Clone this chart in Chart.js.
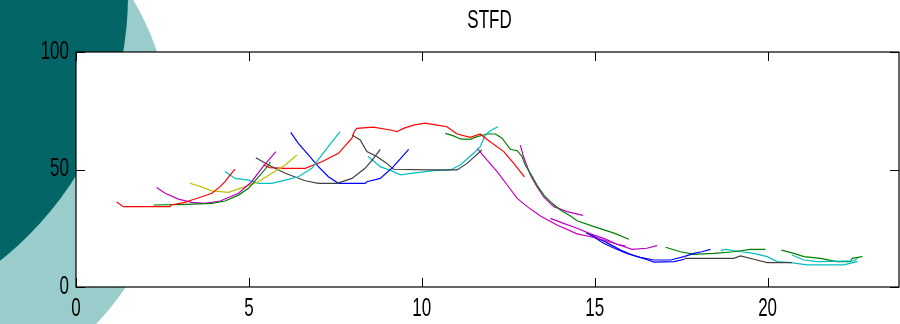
<!DOCTYPE html>
<html>
<head>
<meta charset="utf-8">
<script src="https://cdn.jsdelivr.net/npm/chart.js@4.4.0/dist/chart.umd.min.js"></script>
<style>
  body { margin: 0; background: #fff; }
  #wrap { position: relative; width: 900px; height: 324px; overflow: hidden; background: #fff; }
  .disc { position: absolute; border-radius: 50%; }
  #light { left: -368px; top: -132px; width: 539px; height: 539px; background: #9bcccc; }
  #dark { left: -552px; top: -345px; width: 680px; height: 680px; background: #036565; }
  #stfd { position: absolute; left: 0; top: 0; }
</style>
</head>
<body>
<div id="wrap">
  <div class="disc" id="light"></div>
  <div class="disc" id="dark"></div>
  <canvas id="stfd" width="900" height="324"></canvas>
</div>
<script>
// title and tick values
const title = 'STFD';
const xTicks = [0, 5, 10, 15, 20];
const yTicks = [0, 50, 100];

// matlab line colours
const red = '#ff0000', green = '#008000', blue = '#0000ff', cyan = '#00bfbf',
      magenta = '#bf00bf', yellow = '#bfbf00', gray = '#404040';

// tracks, [x, y]
const redA = [[1.18,36.2],[1.25,35.4],[1.37,34.2],[2.72,34.2],[2.75,34.9],[3.15,36.0],[3.35,37.0],[3.64,38.4],[3.93,39.9],[4.17,42.7],[4.31,44.8],[4.46,47.7],[4.60,50.2]];
const greenA = [[2.24,34.9],[3.2,35.2],[3.93,35.6],[4.31,36.6],[4.70,39.1],[4.99,42.0],[5.28,46.9],[5.57,51.9],[5.62,53.3]];
const magentaA = [[2.33,42.3],[2.58,39.9],[2.96,37.4],[3.35,36.0],[3.73,35.6],[4.17,36.6],[4.70,39.9],[5.08,44.8],[5.37,50.5],[5.57,54.0],[5.78,57.6]];
const yellowA = [[3.30,44.1],[3.54,43.1],[3.93,40.9],[4.41,40.3],[4.89,42.7],[5.28,44.8],[5.66,48.4],[6.05,51.9],[6.39,56.2]];
const cyanA = [[4.31,49.1],[4.60,46.2],[4.99,45.5],[5.28,44.1],[5.66,44.1],[6.05,45.5],[6.43,46.9],[6.82,50.5],[7.11,56.2],[7.40,61.8],[7.64,66.1]];
const grayA = [[5.20,55.0],[5.57,51.9],[6.05,48.4],[6.63,45.2],[7.01,44.1],[7.55,44.1],[7.98,46.2],[8.36,50.5],[8.61,54.8],[8.80,58.6]];
const redB = [[5.42,51.9],[5.6,50.8],[6.05,50.5],[6.63,50.5],[7.11,53.3],[7.59,56.9],[7.98,63.3],[8.05,66.2],[8.12,67.5],[8.6,68.0],[9.09,66.8],[9.28,66.1],[9.47,67.5],[9.76,68.9],[10.1,69.7],[10.44,68.9],[10.73,68.2],[11.02,65.1],[11.4,63.7],[11.69,65.1],[11.84,63.3],[12.37,57.6],[12.66,52.6],[12.97,46.9]];
const blueA = [[6.21,65.8],[6.43,61.1],[6.72,56.2],[7.01,51.2],[7.30,46.9],[7.59,44.1],[8.36,44.1],[8.41,44.8],[8.80,46.2],[9.18,51.2],[9.62,58.6]];
const grayB = [[7.98,64.7],[8.22,62.6],[8.41,57.6],[8.70,55.5],[8.99,52.6],[9.18,50.1],[10.25,49.8],[11.02,49.8],[11.31,52.6],[11.74,58.3]];
const cyanB = [[8.45,55.5],[8.80,51.2],[9.18,49.1],[9.38,47.7],[9.86,48.7],[10.34,49.5],[10.83,49.8],[11.11,51.9],[11.5,56.9],[11.69,59.7],[11.84,64.7],[11.98,66.5],[12.2,68.2]];
const greenB = [[10.68,65.4],[10.92,64.3],[11.11,63.0],[11.40,62.8],[11.6,64.0],[11.89,65.1],[12.13,65.1],[12.32,63.3],[12.56,58.6],[12.76,58.0],[12.9,55.5],[12.99,51.9],[13.14,48.4],[13.33,43.4],[13.53,39.1],[13.77,35.6],[14.01,32.8],[14.3,30.2],[14.49,28.2],[14.98,25.7],[15.56,22.9],[15.99,20.3]];
const magentaB = [[12.85,60.4],[12.94,55.5],[13.14,47.7],[13.33,42.7],[13.53,38.2],[13.82,34.2],[14.2,32.1],[14.66,30.5]];
const magentaC = [[11.6,59.0],[11.89,54.0],[12.18,49.1],[12.47,43.4],[12.76,37.7],[13.05,34.2],[13.43,30.2],[13.91,26.4],[14.49,22.6],[14.88,21.4],[15.26,20.0],[15.56,18.6],[16.08,16.0],[16.51,16.5],[16.8,17.6]];
const magentaD = [[13.72,29.2],[14.1,27.1],[14.49,25.0],[14.88,22.6],[15.26,20.7],[15.65,18.2],[15.9,17.4]];
const blueB = [[14.75,23.0],[14.88,22.1],[15.26,18.6],[15.6,16.3],[15.93,14.3],[16.32,12.6],[16.71,11.5],[17.2,11.5],[17.58,12.9],[17.87,14.3],[18.1,15.0],[18.35,16.0]];
const blueC = [[14.85,22.4],[15.3,19.3],[15.75,15.7],[16.1,13.5],[16.5,11.7],[16.71,10.6],[17.3,10.8],[17.6,11.8]];
const greenC = [[17.05,16.9],[17.48,15.0],[17.87,13.9],[18.45,14.3],[19.02,15.0],[19.51,16.0],[19.94,16.0]];
const grayC = [[17.6,12.2],[19.02,12.2],[19.22,13.2],[19.6,11.8],[19.99,10.4],[20.7,10.4]];
const cyanC = [[18.64,15.5],[18.8,16.0],[19.22,15.0],[19.6,14.3],[19.99,12.9],[20.28,10.8],[20.67,10.4],[21.15,9.4],[21.73,9.4],[22.2,9.4],[22.6,10.8]];
const cyanD = [[20.7,13.6],[21.05,11.5],[21.44,10.8],[22.5,11.1],[22.6,12.2]];
const greenD = [[20.4,15.7],[20.76,14.3],[21.05,12.9],[21.53,12.2],[22.0,10.8],[22.4,10.8],[22.45,12.2],[22.74,12.9]];

const tracks = [
  [redA, red], [greenA, green], [magentaA, magenta], [yellowA, yellow], [cyanA, cyan],
  [grayA, gray], [redB, red], [blueA, blue], [grayB, gray], [cyanB, cyan], [greenB, green],
  [magentaB, magenta], [magentaC, magenta], [magentaD, magenta], [blueB, blue], [blueC, blue],
  [greenC, green], [grayC, gray], [cyanC, cyan], [cyanD, cyan], [greenD, green]
];

const font = "25px 'Liberation Sans', Arial, sans-serif";
const squeeze = 0.68; // the figure's text is narrow

function narrowText(c, txt, x, y, align) {
  c.save();
  c.translate(x, y);
  c.scale(squeeze, 1);
  c.textAlign = align;
  c.fillText(txt, 0, 0);
  c.restore();
}

// white axes box, inward ticks and labels like matlab
const boxPlugin = {
  id: 'box',
  beforeDraw(chart) {
    const a = chart.chartArea, c = chart.ctx;
    c.save();
    c.fillStyle = '#fff';
    c.fillRect(a.left, a.top, a.right - a.left, a.bottom - a.top);
    c.restore();
  },
  afterDraw(chart) {
    const a = chart.chartArea, c = chart.ctx;
    const sx = chart.scales.x, sy = chart.scales.y;
    c.save();
    c.strokeStyle = '#000';
    c.lineWidth = 1.2;
    c.strokeRect(a.left, a.top, a.right - a.left, a.bottom - a.top);
    c.beginPath();
    xTicks.forEach(v => {
      const px = Math.round(sx.getPixelForValue(v)) + 0.5;
      c.moveTo(px, a.bottom); c.lineTo(px, a.bottom - 9);
      c.moveTo(px, a.top); c.lineTo(px, a.top + 9);
    });
    yTicks.forEach(v => {
      const py = Math.round(sy.getPixelForValue(v)) + 0.5;
      c.moveTo(a.left, py); c.lineTo(a.left + 9, py);
      c.moveTo(a.right, py); c.lineTo(a.right - 9, py);
    });
    c.lineWidth = 1;
    c.stroke();

    c.fillStyle = '#000';
    c.font = font;
    c.textBaseline = 'middle';
    xTicks.forEach(v => narrowText(c, String(v), sx.getPixelForValue(v), a.bottom + 22, 'center'));
    yTicks.forEach(v => narrowText(c, String(v), a.left - 7, sy.getPixelForValue(v), 'right'));
    narrowText(c, title, (a.left + a.right) / 2 + 2, 21, 'center');
    c.restore();
  }
};

new Chart(document.getElementById('stfd'), {
  type: 'scatter',
  data: {
    datasets: tracks.map(t => ({
      data: t[0].map(p => ({ x: p[0], y: p[1] })),
      showLine: true,
      borderColor: t[1],
      borderWidth: 1.2,
      pointRadius: 0,
      tension: 0
    }))
  },
  options: {
    responsive: false,
    animation: false,
    layout: { padding: { top: 52, right: 1, left: 0, bottom: 0 } },
    plugins: {
      legend: { display: false },
      tooltip: { enabled: false },
      title: { display: false }
    },
    scales: {
      x: {
        type: 'linear',
        min: 0,
        max: 23.8,
        grid: { display: false },
        border: { display: false },
        afterBuildTicks: s => { s.ticks = xTicks.map(v => ({ value: v })); },
        afterFit: s => { s.height = 37; },
        ticks: { display: false }
      },
      y: {
        min: 0,
        max: 100,
        grid: { display: false },
        border: { display: false },
        afterBuildTicks: s => { s.ticks = yTicks.map(v => ({ value: v })); },
        afterFit: s => { s.width = 76; },
        ticks: { display: false }
      }
    }
  },
  plugins: [boxPlugin]
});
</script>
</body>
</html>
